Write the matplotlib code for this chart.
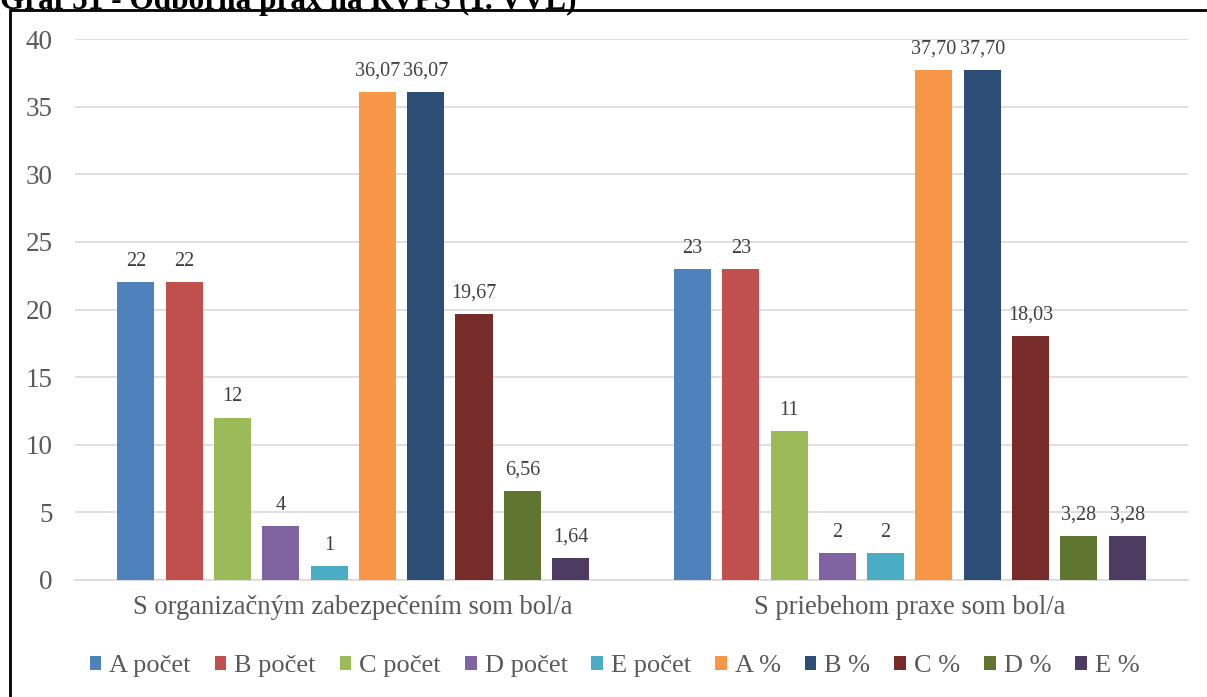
import matplotlib.pyplot as plt
from matplotlib.patches import Rectangle
import numpy as np

plt.rcParams['font.family'] = ['Liberation Serif', 'DejaVu Serif']

categories = ['S organizačným zabezpečením som bol/a', 'S priebehom praxe som bol/a']
series = ['A počet', 'B počet', 'C počet', 'D počet', 'E počet',
          'A %', 'B %', 'C %', 'D %', 'E %']
values = [
    [22, 23],
    [22, 23],
    [12, 11],
    [4, 2],
    [1, 2],
    [36.07, 37.70],
    [36.07, 37.70],
    [19.67, 18.03],
    [6.56, 3.28],
    [1.64, 3.28],
]
labels = [
    ['22', '23'],
    ['22', '23'],
    ['12', '11'],
    ['4', '2'],
    ['1', '2'],
    ['36,07', '37,70'],
    ['36,07', '37,70'],
    ['19,67', '18,03'],
    ['6,56', '3,28'],
    ['1,64', '3,28'],
]
colors = ['#4F81BD', '#C0504D', '#9BBB59', '#8064A2', '#4BACC6',
          '#F79646', '#2C4D75', '#772C2A', '#5F7530', '#4D3B62']

fig = plt.figure(figsize=(12.07, 6.97), dpi=100)
ax = fig.add_axes([0.0621, 0.1679, 0.9222, 0.7761])

x = np.arange(len(categories))
pitch = 0.0868
width = 0.0665
n = len(series)
for i, (name, vals) in enumerate(zip(series, values)):
    pos = x + (i - (n - 1) / 2) * pitch
    bars = ax.bar(pos, vals, width, color=colors[i], label=name, zorder=3)
    for b, lab in zip(bars, labels[i]):
        ax.text(b.get_x() + b.get_width() / 2, b.get_height() + 1.2, lab,
                ha='center', va='baseline', fontsize=14.5, color='#404040')

ax.set_xlim(-0.5, 1.5)
ax.set_ylim(0, 40)
ax.set_yticks(range(0, 41, 5))
ax.set_xticks(x)
ax.set_xticklabels(categories, fontsize=19.2, color='#595959')
ax.tick_params(axis='y', labelsize=19.5, labelcolor='#595959', length=0, pad=16)
ax.tick_params(axis='x', length=0, pad=11)
ax.grid(axis='y', color='#D9D9D9', linewidth=1.2, zorder=0)
for s in ['top', 'right', 'left']:
    ax.spines[s].set_visible(False)
ax.spines['bottom'].set_color('#D9D9D9')
ax.spines['bottom'].set_linewidth(1.2)

fig.legend(loc='center', bbox_to_anchor=(0.509, 0.044), ncol=10, frameon=False,
           fontsize=19, handlelength=0.45, handleheight=0.45, handletextpad=0.3,
           columnspacing=0.9, labelcolor='#595959')

# border of the chart box (cut by the image edges)
fig.patches.append(Rectangle((10 / 1207, -0.05), 1.2, 1.05 - 10 / 697,
                             transform=fig.transFigure, fill=False,
                             edgecolor='black', linewidth=2))
fig.text(0.0, 1 - 9 / 697, 'Graf 51 - Odborná prax na RVPS (1. VVL)',
         fontsize=22.5, fontweight='bold', va='baseline', ha='left')

plt.savefig('out.png', dpi=100)
